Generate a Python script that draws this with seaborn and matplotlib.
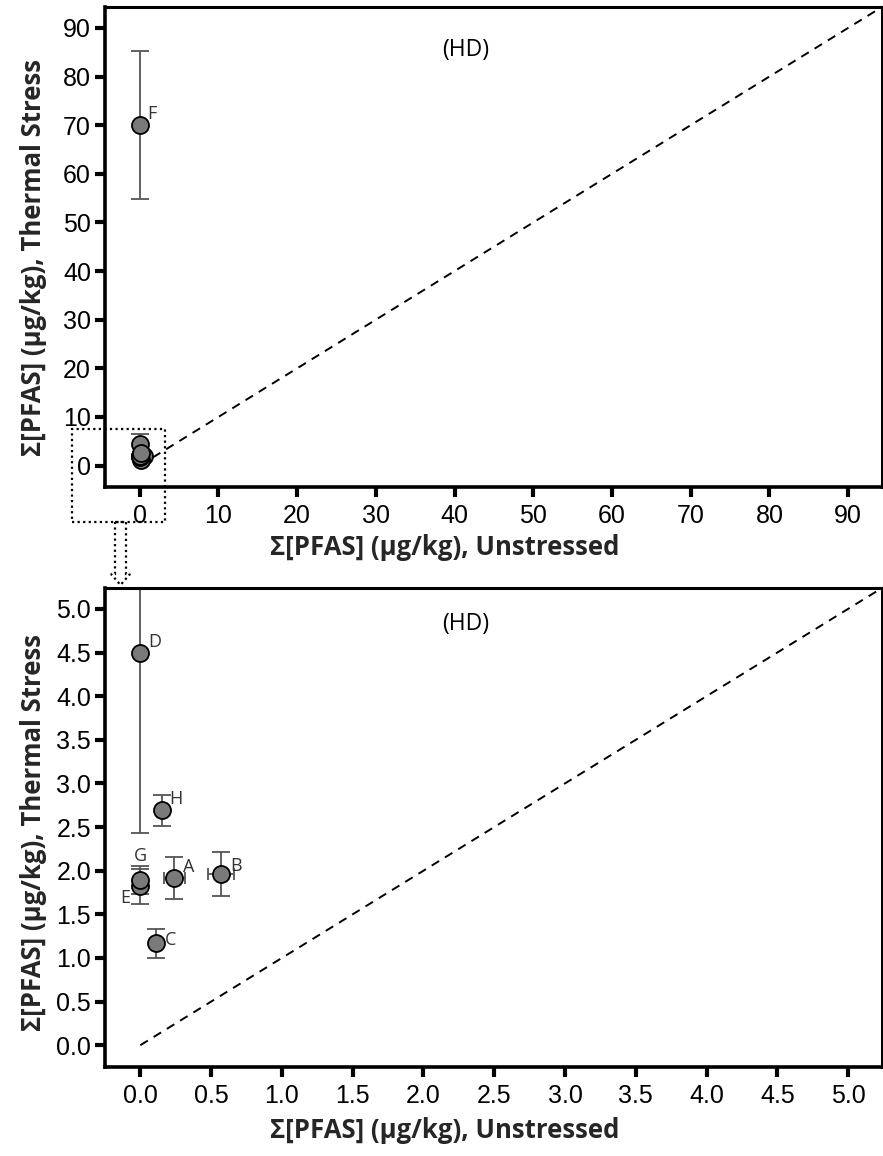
import matplotlib
matplotlib.use("Agg")
import matplotlib.pyplot as plt
import seaborn as sns
import pandas as pd
import numpy as np
from matplotlib.patches import Rectangle, Polygon

# ---- data ----
labels = ["A", "B", "C", "D", "E", "F", "G", "H"]
unstressed = [0.24, 0.57, 0.11, 0.0, 0.0, 0.0, 0.0, 0.15]
unstressed_err = [0.075, 0.09, 0.04, 0.0, 0.0, 0.0, 0.0, 0.0]
thermal = [1.92, 1.96, 1.17, 4.50, 1.82, 70.0, 1.89, 2.69]
thermal_err = [0.24, 0.25, 0.165, 2.07, 0.20, 15.2, 0.16, 0.18]

top_ticks = [0, 10, 20, 30, 40, 50, 60, 70, 80, 90]
bot_ticks = [0.0, 0.5, 1.0, 1.5, 2.0, 2.5, 3.0, 3.5, 4.0, 4.5, 5.0]

# label offsets in pixels (dx, dy, ha, va)
top_offsets = {"F": (8, 2, "left", "bottom")}
bot_offsets = {
    "A": (9, 2, "left", "bottom"),
    "B": (9, -1, "left", "bottom"),
    "C": (9, 3, "left", "center"),
    "D": (8, 2, "left", "bottom"),
    "E": (-10, -12, "right", "center"),
    "G": (0, 15, "center", "bottom"),
    "H": (8, 2, "left", "bottom"),
}

df = pd.DataFrame({"label": labels, "x": unstressed, "xerr": unstressed_err,
                   "y": thermal, "yerr": thermal_err})

sns.set_style("ticks")
plt.rcParams["font.family"] = ["Liberation Sans", "DejaVu Sans"]

W, H = 883, 1156
fig = plt.figure(figsize=(W / 100, H / 100), dpi=100)

def fx(px):
    return px / W

def fy(py):
    return 1 - py / H

ax1 = fig.add_axes([fx(105), fy(487), fx(882) - fx(105), fy(7) - fy(487)])
ax2 = fig.add_axes([fx(105), fy(1067), fx(882) - fx(105), fy(588) - fy(1067)])

label_font = dict(family=["Open Sans", "DejaVu Sans"], weight="bold", size=18.5)
tick_font = dict(family=["Liberation Sans", "DejaVu Sans"], size=18)

def draw(ax, lim, ticks, offsets, subset, fmt, hd_pos):
    d = df[df["label"].isin(subset)]
    ax.plot([0, lim[1] * 1.2], [0, lim[1] * 1.2], ls=(0, (4.5, 3.5)), color="black",
            lw=1.4, zorder=1)
    ax.errorbar(d["x"], d["y"], yerr=d["yerr"], fmt="none",
                ecolor="#555555", elinewidth=1.3, capsize=6.8, capthick=1.3, zorder=2)
    ax.errorbar(d["x"], d["y"], xerr=d["xerr"], fmt="none",
                ecolor="#555555", elinewidth=1.3, capsize=4.5, capthick=1.3, zorder=2)
    sns.scatterplot(data=d, x="x", y="y", ax=ax, s=150, color="#7a7a7a",
                    edgecolor="black", linewidth=1.3, zorder=3, legend=False)
    for _, r in d.iterrows():
        if r["label"] in offsets:
            dx, dy, ha, va = offsets[r["label"]]
            ax.annotate(r["label"], (r["x"], r["y"]), xytext=(dx, dy),
                        textcoords="offset pixels", ha=ha, va=va, fontsize=13,
                        color="#333333", family=["Open Sans", "DejaVu Sans"])
    ax.set_xlim(lim)
    ax.set_ylim(lim)
    ax.set_xticks(ticks)
    ax.set_yticks(ticks)
    ax.set_xticklabels([fmt.format(t) for t in ticks], **tick_font)
    ax.set_yticklabels([fmt.format(t) for t in ticks], **tick_font)
    ax.tick_params(axis="both", direction="out", length=7, width=3,
                   color="black", labelcolor="black")
    ax.tick_params(axis="x", pad=5)
    ax.tick_params(axis="y", pad=3)
    for s in ["left", "bottom"]:
        ax.spines[s].set_linewidth(2.6)
    for s in ["top", "right"]:
        ax.spines[s].set_linewidth(2.2)
    for s in ax.spines.values():
        s.set_color("black")
    ax.set_xlabel("Σ[PFAS] (µg/kg), Unstressed", **label_font)
    ax.set_ylabel("Σ[PFAS] (µg/kg), Thermal Stress", **label_font)
    ax.text(hd_pos[0], hd_pos[1], "(HD)", ha="center", va="center", fontsize=16.5,
            family=["Open Sans", "DejaVu Sans"], color="black")

draw(ax1, (-4.4, 94.3), top_ticks, top_offsets, labels, "{:.0f}", (41.4, 85.5))
draw(ax2, (-0.25, 5.24), bot_ticks, bot_offsets, [l for l in labels if l != "F"],
     "{:.1f}", (2.3, 4.83))

ax1.xaxis.set_label_coords(0.437, -0.098)
ax2.xaxis.set_label_coords(0.437, -0.104)
ax1.yaxis.set_label_coords(-0.075, 0.479)
ax2.yaxis.set_label_coords(-0.075, 0.49)

# dotted zoom box in top panel
ax1.add_patch(Rectangle((-8.6, -11.5), 3.25 + 8.6, 7.6 + 11.5, fill=False,
                        ls=(0, (1, 1.5)), lw=1.6, edgecolor="black", clip_on=False,
                        zorder=5))

# hollow dotted arrow
pts = [(115, 522), (126, 522), (126, 574), (130, 574), (120.5, 585), (111, 574), (115, 574)]
fig.patches.append(Polygon([(fx(x), fy(y)) for x, y in pts], closed=True, fill=False,
                           ls=(0, (1, 1.5)), lw=1.6, edgecolor="black",
                           transform=fig.transFigure, figure=fig))

fig.savefig("out.png", dpi=100)
